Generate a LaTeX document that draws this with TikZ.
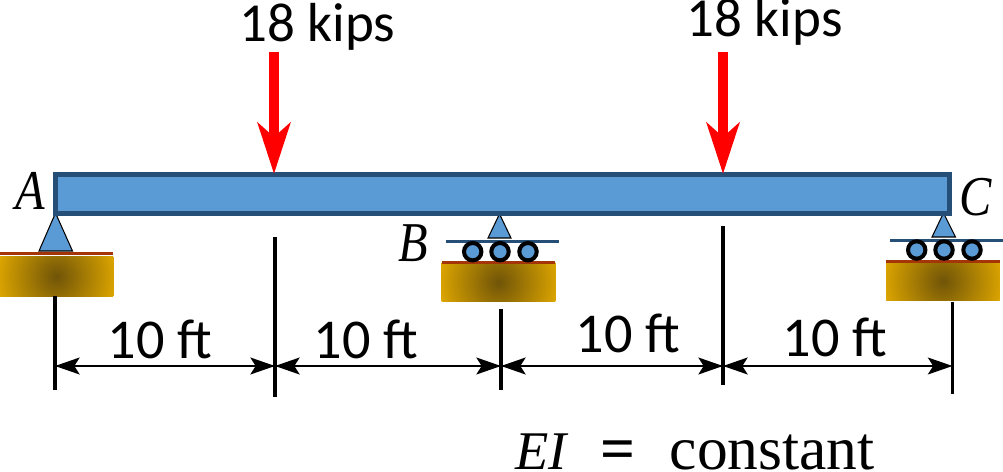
\documentclass[tikz,border=0pt]{standalone}
\usepackage{fontspec}
\setmainfont{Carlito}
\newfontfamily\serifface{Liberation Serif}
\usetikzlibrary{arrows.meta}
\definecolor{beamblue}{HTML}{5B9BD5}
\definecolor{beamedge}{HTML}{264F78}
\definecolor{gold}{HTML}{DCA500}
\definecolor{golddark}{HTML}{705408}
\definecolor{rust}{HTML}{A33508}
\tikzset{
  beam/.style={draw=beamedge,fill=beamblue,line width=2.9pt,inner sep=0pt,minimum width=17.89cm,minimum height=0.78cm},
  ground/.style={inner sep=0pt,minimum width=2.26cm,minimum height=0.78cm},
  pin/.style={draw=black,fill=beamblue,line width=0.6pt,line join=miter},
  roller/.style={draw=black,fill=beamblue,line width=2.3pt},
  plate/.style={draw=beamedge,line width=1.6pt},
  soil/.style={draw=rust,line width=1.6pt},
  load/.style={draw=red,line width=5.67pt,-{Stealth[length=29pt,width=18.5pt,inset=8pt]}},
  dimline/.style={line width=1.3pt,{Stealth[length=14pt,width=9.6pt,inset=3pt]}-{Stealth[length=14pt,width=9.6pt,inset=3pt]}},
  tick/.style={line width=1.8pt},
  lbl/.style={anchor=base,inner sep=0pt,font=\fontsize{32}{36}\selectfont},
  kips/.style={anchor=base,inner sep=0pt,font=\fontsize{31.3}{36}\selectfont},
  pt/.style={anchor=base,inner sep=0pt,font=\serifface\itshape\fontsize{32}{38}\selectfont,xscale=0.86,transform shape}
}
\begin{document}
\begin{tikzpicture}[x=0.02cm,y=-0.02cm]
  \useasboundingbox (0,0) rectangle (1003,472);
  % supports
  \node[ground] (gndA) at (56.5,276.5) {};
  \node[ground] (gndB) at (498.5,282) {};
  \node[ground] (gndC) at (943,281) {};
  \foreach \g in {gndA,gndB,gndC} {
    \begin{scope}
      \clip (\g.south west) rectangle (\g.north east);
      \shade[inner color=golddark,outer color=gold] (\g.center) circle (60);
    \end{scope}
  }
  \draw[soil] ([yshift=2pt]gndA.north west) -- ([yshift=2pt]gndA.north east);
  \draw[soil] (gndB.north west) -- (gndB.north east);
  \draw[soil] (gndC.north west) -- (gndC.north east);
  \draw[pin] (55.5,213) -- (72.5,251) -- (39,251) -- cycle;
  \draw[pin] (499.5,214) -- (511,238) -- (488,238) -- cycle;
  \draw[pin] (943.5,213) -- (955.5,237) -- (932,237) -- cycle;
  \draw[plate] (446,241.3) -- (559,241.3);
  \draw[plate] (890,240.3) -- (1003,240.3);
  \foreach \x in {472.7,500,528} {
    \draw[roller] (\x,251.7) circle (8.7);
  }
  \foreach \x in {916.7,944,972} {
    \draw[roller] (\x,250) circle (8.7);
  }
  % beam
  \node[beam] (bm) at (502.25,194) {};
  \node[pt] (ptA) at (30.5,210) {A};
  \node[pt] (ptB) at (413,262) {B};
  \node[pt] (ptC) at (976,216) {C};
  % loads
  \node[kips] (loadL) at (317.5,41.7) {18 kips};
  \node[kips] (loadR) at (764.5,37) {18 kips};
  \coordinate (topL) at (274,52);
  \coordinate (tipL) at (274,174);
  \coordinate (topR) at (723,52);
  \coordinate (tipR) at (723,174);
  \draw[load] (topL) -- (tipL);
  \draw[load] (topR) -- (tipR);
  % dimensions
  \foreach \n/\x/\t/\b in {a/55/296/390,b/275/237/397,c/501/309/390,d/723/226/385,e/952.5/302/394} {
    \coordinate (top\n) at (\x,\t);
    \coordinate (bot\n) at (\x,\b);
    \coordinate (dim\n) at (\x,366);
    \draw[tick] (top\n) -- (bot\n);
  }
  \foreach \p/\q in {a/b,b/c,c/d,d/e} {
    \draw[dimline] (dim\p) -- (dim\q);
  }
  \node[lbl] (spanA) at (160,358) {10 ft};
  \node[lbl] (spanB) at (366,358) {10 ft};
  \node[lbl] (spanC) at (628,353) {10 ft};
  \node[lbl] (spanD) at (835,357) {10 ft};
  \node[anchor=base west,inner sep=0pt,font=\serifface\fontsize{35}{40}\selectfont] (stiff) at (515,469) {{\fontsize{31}{36}\selectfont\textit{EI}}\hspace{0.52em}\textbf{=}\hspace{0.55em}constant};
\end{tikzpicture}
\end{document}
